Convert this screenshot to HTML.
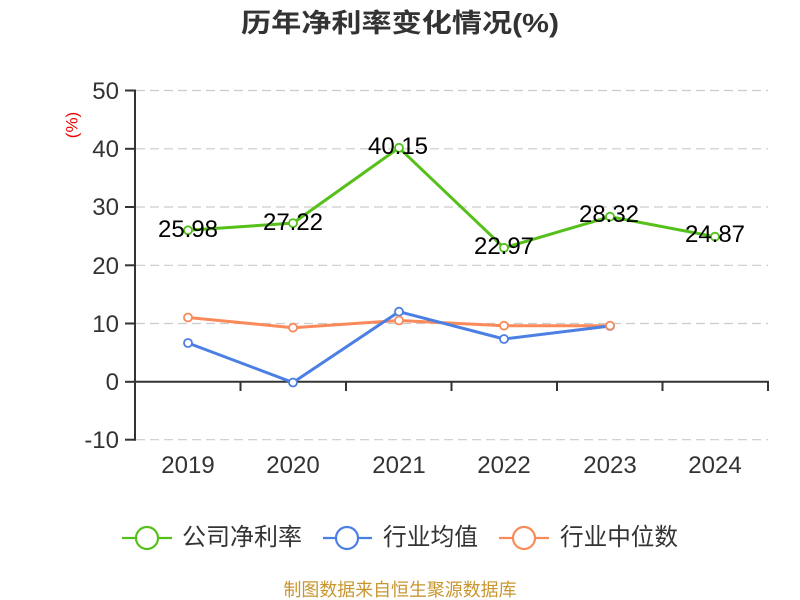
<!DOCTYPE html>
<html><head><meta charset="utf-8"><style>
html,body{margin:0;padding:0;background:#fff;}
svg{display:block;}
text{font-family:"Liberation Sans","Noto Sans CJK SC",sans-serif;}
</style></head><body>
<svg width="800" height="600" viewBox="0 0 800 600" xmlns="http://www.w3.org/2000/svg">
<rect width="800" height="600" fill="#fff"/>
<text x="400" y="32" text-anchor="middle" font-size="26" font-weight="bold" fill="#333" textLength="318" lengthAdjust="spacingAndGlyphs">历年净利率变化情况(%)</text>
<text transform="translate(77.5,125) rotate(-90)" text-anchor="middle" font-size="17" fill="#e00">(%)</text>
<g stroke="#ccc" stroke-width="1.2" stroke-dasharray="9,5">
<line x1="136" y1="90.5" x2="768" y2="90.5"/>
<line x1="136" y1="148.8" x2="768" y2="148.8"/>
<line x1="136" y1="207" x2="768" y2="207"/>
<line x1="136" y1="265.3" x2="768" y2="265.3"/>
<line x1="136" y1="323.5" x2="768" y2="323.5"/>
<line x1="136" y1="439.7" x2="768" y2="439.7"/>
</g>
<g stroke="#333" stroke-width="2">
<line x1="135" y1="89.5" x2="135" y2="440.7"/>
<line x1="125" y1="90.5" x2="135" y2="90.5"/>
<line x1="125" y1="148.8" x2="135" y2="148.8"/>
<line x1="125" y1="207" x2="135" y2="207"/>
<line x1="125" y1="265.3" x2="135" y2="265.3"/>
<line x1="125" y1="323.5" x2="135" y2="323.5"/>
<line x1="125" y1="381.8" x2="135" y2="381.8"/>
<line x1="125" y1="439.7" x2="135" y2="439.7"/>
<line x1="134" y1="381.8" x2="769" y2="381.8"/>
<line x1="240.5" y1="381.8" x2="240.5" y2="391"/>
<line x1="346" y1="381.8" x2="346" y2="391"/>
<line x1="451.5" y1="381.8" x2="451.5" y2="391"/>
<line x1="557" y1="381.8" x2="557" y2="391"/>
<line x1="662.5" y1="381.8" x2="662.5" y2="391"/>
<line x1="768" y1="381.8" x2="768" y2="391"/>
</g>
<g font-size="24" fill="#333" text-anchor="end">
<text x="119" y="99">50</text>
<text x="119" y="157">40</text>
<text x="119" y="215">30</text>
<text x="119" y="274">20</text>
<text x="119" y="332">10</text>
<text x="119" y="390">0</text>
<text x="119" y="448">-10</text>
</g>
<g font-size="24" fill="#333" text-anchor="middle">
<text x="188" y="473">2019</text>
<text x="293" y="473">2020</text>
<text x="399" y="473">2021</text>
<text x="504" y="473">2022</text>
<text x="610" y="473">2023</text>
<text x="715" y="473">2024</text>
</g>
<g fill="none" stroke-width="3" stroke-linejoin="round">
<polyline stroke="#fa8a59" points="188,317.5 293,327.7 399,320.5 504,325.7 610,325.7"/>
<polyline stroke="#4b7fe3" points="188,343 293,382.5 399,311.7 504,339 610,326"/>
<polyline stroke="#56c01b" points="188,230.3 293,223.1 399,147.8 504,247.8 610,216.7 715,236.7"/>
</g>
<g fill="#fff" stroke-width="1.8">
<g stroke="#4b7fe3">
<circle cx="188" cy="343" r="4"/><circle cx="293" cy="382.5" r="4"/><circle cx="399" cy="311.7" r="4"/><circle cx="504" cy="339" r="4"/><circle cx="610" cy="326" r="4"/>
</g>
<g stroke="#fa8a59">
<circle cx="188" cy="317.5" r="4"/><circle cx="293" cy="327.7" r="4"/><circle cx="399" cy="320.5" r="4"/><circle cx="504" cy="325.7" r="4"/><circle cx="610" cy="325.7" r="4"/>
</g>
<g stroke="#56c01b">
<circle cx="188" cy="230.3" r="4"/><circle cx="293" cy="223.1" r="4"/><circle cx="399" cy="147.8" r="4"/><circle cx="504" cy="247.8" r="4"/><circle cx="610" cy="216.7" r="4"/><circle cx="715" cy="236.7" r="4"/>
</g>
</g>
<g font-size="24" fill="#000" text-anchor="middle">
<text x="188" y="237">25.98</text>
<text x="293" y="230">27.22</text>
<text x="398" y="154">40.15</text>
<text x="504" y="254">22.97</text>
<text x="609" y="222">28.32</text>
<text x="715" y="242">24.87</text>
</g>
<g stroke-width="2.2" fill="#fff">
<line x1="122" y1="538" x2="172" y2="538" stroke="#56c01b"/>
<circle cx="147" cy="538" r="11" stroke="#56c01b"/>
<line x1="323" y1="538" x2="372" y2="538" stroke="#4b7fe3"/>
<circle cx="347" cy="538" r="11" stroke="#4b7fe3"/>
<line x1="499" y1="538" x2="549" y2="538" stroke="#fa8a59"/>
<circle cx="524" cy="538" r="11" stroke="#fa8a59"/>
</g>
<g font-size="24" fill="#333">
<text x="182" y="545" textLength="120" lengthAdjust="spacingAndGlyphs">公司净利率</text>
<text x="383" y="545" textLength="95" lengthAdjust="spacingAndGlyphs">行业均值</text>
<text x="560" y="545" textLength="118" lengthAdjust="spacingAndGlyphs">行业中位数</text>
</g>
<text x="400" y="596" text-anchor="middle" font-size="18" fill="#c8962e" textLength="233" lengthAdjust="spacingAndGlyphs">制图数据来自恒生聚源数据库</text>
</svg>
</body></html>
